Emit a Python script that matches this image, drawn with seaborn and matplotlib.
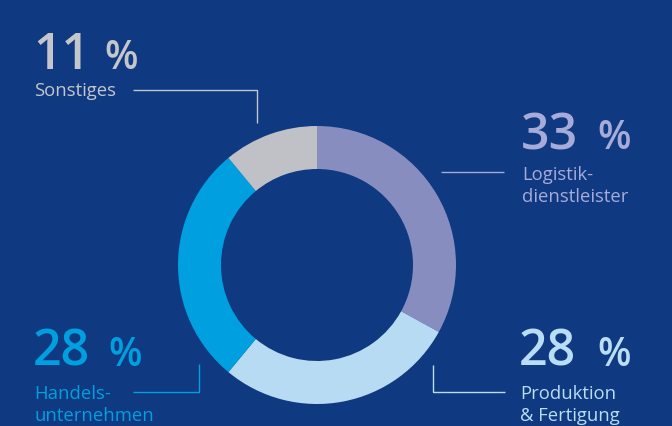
import matplotlib
matplotlib.use("Agg")
import matplotlib.pyplot as plt
import seaborn as sns

# Shares by sector (percent), clockwise from the top
categories = ["Logistik-\ndienstleister", "Produktion\n& Fertigung", "Handels-\nunternehmen", "Sonstiges"]
shares = [33, 28, 28, 11]

ring_colors = ["#878dbf", "#b7dbf3", "#00a0e0", "#bfc1c6"]
text_colors = ["#a6abd9", "#b9ddf5", "#00a0e0", "#c4c6cb"]
bg = "#0f3980"

sns.set_style("dark", {"axes.facecolor": bg, "figure.facecolor": bg})
plt.rcParams["font.family"] = ["Open Sans", "DejaVu Sans"]

W, H = 672, 426
fig = plt.figure(figsize=(W / 100, H / 100), dpi=100)
fig.patch.set_facecolor(bg)
ax = fig.add_axes([0, 0, 1, 1])
ax.set_facecolor(bg)

cx, cy, r_out, r_in = 317, 265, 139, 96
ax.pie(shares, colors=sns.color_palette(ring_colors), startangle=90, counterclock=False,
       center=(cx, H - cy), radius=r_out,
       wedgeprops=dict(width=r_out - r_in, linewidth=0))
ax.set_xlim(0, W)
ax.set_ylim(0, H)
ax.set_aspect("equal")
ax.axis("off")

def Y(y):
    return H - y

# label layout: number position, percent-sign x, label baseline, leader line path
layout = [
    dict(x=521, num_base=149, pct_x=597, lab_base=180,
         path=[(441, 171.5), (504, 171.5)]),
    dict(x=519, num_base=366, pct_x=597, lab_base=399,
         path=[(433, 365), (433, 391.5), (505, 391.5)]),
    dict(x=33, num_base=366, pct_x=108, lab_base=399,
         path=[(133, 391.5), (199, 391.5), (199, 364)]),
    dict(x=33, num_base=69, pct_x=104, lab_base=96,
         path=[(133, 90), (257, 90), (257, 123)]),
]

for val, lab, tc, L in zip(shares, categories, text_colors, layout):
    ax.text(L["x"], Y(L["num_base"]), f"{val}", color=tc, fontsize=36,
            fontweight="semibold", va="baseline", ha="left")
    ax.text(L["pct_x"], Y(L["num_base"]), "%", color=tc, fontsize=28,
            fontweight="semibold", va="baseline", ha="left")
    for i, line in enumerate(lab.split("\n")):
        ax.text(L["x"] + 1, Y(L["lab_base"] + 22 * i), line, color=tc,
                fontsize=13.3, va="baseline", ha="left")
    xs = [p[0] for p in L["path"]]
    ys = [Y(p[1]) for p in L["path"]]
    ax.plot(xs, ys, color=tc, linewidth=1.0, solid_capstyle="butt")

fig.savefig("out.png", dpi=100, facecolor=bg)
